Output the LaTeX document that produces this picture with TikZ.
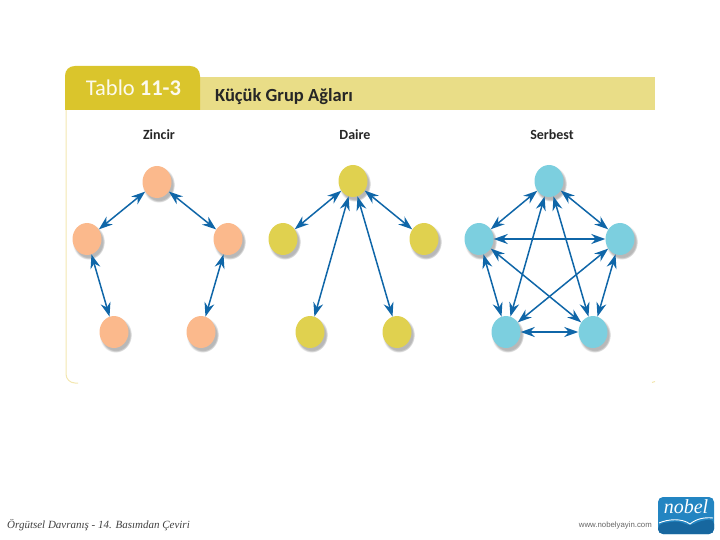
\documentclass[tikz,border=0pt]{standalone}
\usepackage{fontspec}
\setmainfont{Carlito}
\newfontfamily\footfont{Liberation Serif}
\newfontfamily\webfont{Liberation Sans}
\usetikzlibrary{arrows.meta,shapes.geometric,shadows,calc}
\definecolor{tabyellow}{HTML}{DAC52C}
\definecolor{bandyellow}{HTML}{E9DD87}
\definecolor{framecol}{HTML}{F3E7B0}
\definecolor{peach}{HTML}{FBB98C}
\definecolor{olive}{HTML}{E0D14F}
\definecolor{aqua}{HTML}{7CCFDF}
\definecolor{linkblue}{HTML}{0F66A8}
\definecolor{logoblue}{HTML}{17679F}
\definecolor{logolight}{HTML}{2385C2}
\tikzset{
 member/.style={ellipse,minimum width=29pt,minimum height=32pt,inner sep=0pt,
   circular drop shadow={shadow xshift=1.5pt,shadow yshift=-2.5pt,shadow scale=1.12,fill=black!28}},
 link/.style={{Stealth[length=14pt,width=10pt]}-{Stealth[length=14pt,width=10pt]},linkblue,line width=1.5pt},
 heading/.style={font=\fontsize{14}{16}\selectfont\bfseries,text=black!85}
}
\begin{document}
\begin{tikzpicture}[x=1pt,y=-1pt]
    \useasboundingbox (0,0) rectangle (720,540);

    % frame and title band
    \draw[framecol,line width=1pt,rounded corners=9pt] (66,110) -- (66,383) -- (78,383);
    \draw[framecol,line width=1pt] (652,382.5) -- (655,381.5);
    \fill[bandyellow] (200,77) rectangle (655,110);
    \fill[tabyellow] (65,110) -- (65,76) .. controls (65,70) and (69,66) .. (75,66) -- (190,66)
       .. controls (196,66) and (200,70) .. (200,76) -- (200,110) -- cycle;
    \node (tablo) at (133.5,88) {\fontsize{22.5}{24}\selectfont\color{white!92!tabyellow}Tablo \textbf{11-3}};
    \node (title) at (284,97) {\fontsize{18.5}{22}\selectfont\bfseries\color{black!85}Küçük Grup Ağları};

    \node[heading] (zincir) at (159,135) {Zincir};
    \node[heading] (daire) at (355,135) {Daire};
    \node[heading] (serbest) at (552,135) {Serbest};

    % Zincir
    \node[member,fill=peach] (Z1) at (157,182) {};
    \node[member,fill=peach] (Z2) at (87,239) {};
    \node[member,fill=peach] (Z3) at (228,239) {};
    \node[member,fill=peach] (Z4) at (114,332) {};
    \node[member,fill=peach] (Z5) at (201,332) {};
    \draw[link] (Z1) -- (Z2);
    \draw[link] (Z1) -- (Z3);
    \draw[link] (Z2) -- (Z4);
    \draw[link] (Z3) -- (Z5);

    % Daire
    \node[member,fill=olive] (D1) at (353,181) {};
    \node[member,fill=olive] (D2) at (283,239) {};
    \node[member,fill=olive] (D3) at (424,239) {};
    \node[member,fill=olive] (D4) at (310,332) {};
    \node[member,fill=olive] (D5) at (397,332) {};
    \foreach \n in {2,3,4,5}
      \draw[link] (D1) -- (D\n);

    % Serbest
    \node[member,fill=aqua] (S1) at (549,181) {};
    \node[member,fill=aqua] (S2) at (479,239) {};
    \node[member,fill=aqua] (S3) at (620,239) {};
    \node[member,fill=aqua] (S4) at (506,332) {};
    \node[member,fill=aqua] (S5) at (593,332) {};
    \foreach \a/\b in {1/2,1/3,1/4,1/5,2/3,2/4,2/5,3/4,3/5,4/5}
      \draw[link] (S\a) -- (S\b);

    % footer
    \node[anchor=west,inner sep=0pt] (foot) at (7,525) {\footfont\fontsize{11}{12}\selectfont\itshape\color{black!75}Örgütsel Davranış - 14. Basımdan Çeviri};
    \node[anchor=east,inner sep=0pt] (web) at (652,525) {\webfont\fontsize{7.8}{8}\selectfont\color{black!60}www.nobelyayin.com};

    % logo
    \fill[logolight,rounded corners=5pt] (658,497) rectangle (714,534);
    \fill[logoblue,rounded corners=5pt] (658,524) -- (658,534) -- (714,534) -- (714,519) -- (700,521) -- (690,526) -- (678,521) -- cycle;
    \draw[white,line width=0.9pt] (659,523) .. controls (668,519) and (682,518) .. (690,524) .. controls (696,519) and (704,517) .. (713,518);
    \node (logo) at (686,507) {\footfont\fontsize{20}{20}\selectfont\itshape\color{white}nobel};
\end{tikzpicture}
\end{document}
